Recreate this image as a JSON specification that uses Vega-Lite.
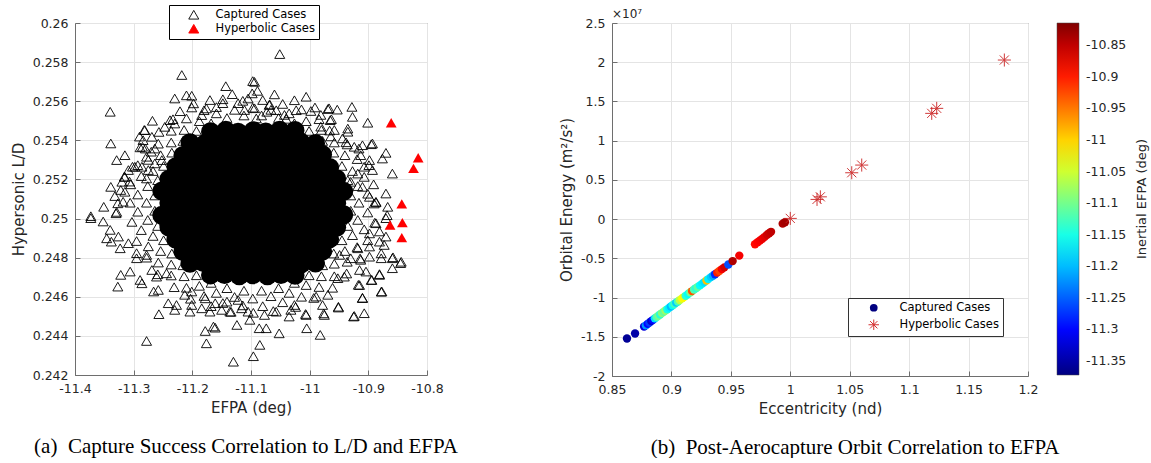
{
"$schema": "https://vega.github.io/schema/vega-lite/v6.json",
"background": "white",
"padding": {"left": 10, "top": 4, "right": 0, "bottom": 0},
"spacing": 185,
"bounds": "flush",
"resolve": {"scale": {"color": "independent", "shape": "independent"}, "legend": {"color": "independent", "shape": "independent"}},
"config": {
 "font": "DejaVu Sans",
 "view": {"stroke": "#6e6e6e", "strokeWidth": 1},
 "axis": {"labelFont": "DejaVu Sans", "labelFontSize": 12.5, "labelColor": "#262626", "titleFont": "DejaVu Sans", "titleFontSize": 15, "titleFontWeight": "normal", "titleColor": "#262626", "grid": true, "gridColor": "#e4e4e4", "domainColor": "#6e6e6e", "tickColor": "#6e6e6e", "tickSize": -5, "labelPadding": 12, "titlePadding": 6, "labelFlush": false, "labelOverlap": false}
},
"datasets": {
 "captured_ld": [
{"efpa":-11.143,"ld":0.25451},{"efpa":-11.122,"ld":0.25441},{"efpa":-11.096,"ld":0.25449},{"efpa":-11.075,"ld":0.25443},{"efpa":-11.051,"ld":0.25452},{"efpa":-11.169,"ld":0.25444},{"efpa":-11.025,"ld":0.2545},
{"efpa":-11.179,"ld":0.25382},{"efpa":-11.158,"ld":0.2539},{"efpa":-11.131,"ld":0.25384},{"efpa":-11.111,"ld":0.25389},{"efpa":-11.084,"ld":0.25381},{"efpa":-11.062,"ld":0.25388},{"efpa":-11.035,"ld":0.25383},{"efpa":-11.015,"ld":0.25391},{"efpa":-11.204,"ld":0.25388},{"efpa":-10.99,"ld":0.25384},
{"efpa":-11.19,"ld":0.25329},{"efpa":-11.17,"ld":0.25321},{"efpa":-11.143,"ld":0.25327},{"efpa":-11.122,"ld":0.25322},{"efpa":-11.098,"ld":0.2533},{"efpa":-11.071,"ld":0.25323},{"efpa":-11.05,"ld":0.25328},{"efpa":-11.023,"ld":0.25321},{"efpa":-11.004,"ld":0.25326},{"efpa":-11.216,"ld":0.25323},{"efpa":-10.978,"ld":0.25327},
{"efpa":-11.202,"ld":0.2526},{"efpa":-11.182,"ld":0.25267},{"efpa":-11.155,"ld":0.25261},{"efpa":-11.134,"ld":0.25266},{"efpa":-11.107,"ld":0.25259},{"efpa":-11.086,"ld":0.25265},{"efpa":-11.059,"ld":0.25262},{"efpa":-11.038,"ld":0.25268},{"efpa":-11.011,"ld":0.2526},{"efpa":-10.991,"ld":0.25266},{"efpa":-11.228,"ld":0.25265},{"efpa":-10.966,"ld":0.25261},
{"efpa":-11.214,"ld":0.25205},{"efpa":-11.193,"ld":0.25198},{"efpa":-11.167,"ld":0.25204},{"efpa":-11.146,"ld":0.25199},{"efpa":-11.119,"ld":0.25206},{"efpa":-11.098,"ld":0.252},{"efpa":-11.071,"ld":0.25205},{"efpa":-11.05,"ld":0.25198},{"efpa":-11.023,"ld":0.25204},{"efpa":-11.003,"ld":0.25199},{"efpa":-10.98,"ld":0.25205},{"efpa":-11.24,"ld":0.25201},{"efpa":-10.954,"ld":0.25204},
{"efpa":-11.226,"ld":0.25137},{"efpa":-11.205,"ld":0.25143},{"efpa":-11.179,"ld":0.25138},{"efpa":-11.158,"ld":0.25144},{"efpa":-11.131,"ld":0.25137},{"efpa":-11.11,"ld":0.25142},{"efpa":-11.083,"ld":0.25139},{"efpa":-11.062,"ld":0.25145},{"efpa":-11.035,"ld":0.25137},{"efpa":-11.014,"ld":0.25143},{"efpa":-10.988,"ld":0.25138},{"efpa":-10.968,"ld":0.25142},{"efpa":-11.252,"ld":0.25141},{"efpa":-10.942,"ld":0.25139},
{"efpa":-11.214,"ld":0.25082},{"efpa":-11.194,"ld":0.25076},{"efpa":-11.167,"ld":0.25081},{"efpa":-11.146,"ld":0.25075},{"efpa":-11.119,"ld":0.25083},{"efpa":-11.099,"ld":0.25077},{"efpa":-11.071,"ld":0.25081},{"efpa":-11.051,"ld":0.25076},{"efpa":-11.023,"ld":0.25083},{"efpa":-11.004,"ld":0.25078},{"efpa":-10.976,"ld":0.2508},{"efpa":-11.24,"ld":0.2508},{"efpa":-10.954,"ld":0.25078},
{"efpa":-11.226,"ld":0.25021},{"efpa":-11.206,"ld":0.25015},{"efpa":-11.179,"ld":0.2502},{"efpa":-11.159,"ld":0.25014},{"efpa":-11.131,"ld":0.25022},{"efpa":-11.111,"ld":0.25016},{"efpa":-11.083,"ld":0.2502},{"efpa":-11.063,"ld":0.25014},{"efpa":-11.035,"ld":0.25021},{"efpa":-11.015,"ld":0.25017},{"efpa":-10.988,"ld":0.25019},{"efpa":-10.968,"ld":0.25015},{"efpa":-11.252,"ld":0.25017},{"efpa":-10.942,"ld":0.25019},
{"efpa":-11.214,"ld":0.24953},{"efpa":-11.194,"ld":0.24959},{"efpa":-11.167,"ld":0.24954},{"efpa":-11.147,"ld":0.2496},{"efpa":-11.119,"ld":0.24953},{"efpa":-11.099,"ld":0.24958},{"efpa":-11.071,"ld":0.24954},{"efpa":-11.051,"ld":0.2496},{"efpa":-11.023,"ld":0.24953},{"efpa":-11.004,"ld":0.24958},{"efpa":-10.98,"ld":0.24955},{"efpa":-11.24,"ld":0.24957},{"efpa":-10.954,"ld":0.24955},
{"efpa":-11.202,"ld":0.24898},{"efpa":-11.183,"ld":0.24892},{"efpa":-11.155,"ld":0.24897},{"efpa":-11.135,"ld":0.24891},{"efpa":-11.107,"ld":0.24898},{"efpa":-11.087,"ld":0.24893},{"efpa":-11.059,"ld":0.24897},{"efpa":-11.039,"ld":0.24891},{"efpa":-11.011,"ld":0.24898},{"efpa":-10.992,"ld":0.24893},{"efpa":-11.228,"ld":0.24894},{"efpa":-10.966,"ld":0.24896},
{"efpa":-11.19,"ld":0.24836},{"efpa":-11.171,"ld":0.2483},{"efpa":-11.143,"ld":0.24835},{"efpa":-11.123,"ld":0.24829},{"efpa":-11.096,"ld":0.24836},{"efpa":-11.075,"ld":0.2483},{"efpa":-11.048,"ld":0.24835},{"efpa":-11.027,"ld":0.24829},{"efpa":-11.002,"ld":0.24834},{"efpa":-11.216,"ld":0.24832},{"efpa":-10.978,"ld":0.24834},
{"efpa":-11.181,"ld":0.24775},{"efpa":-11.156,"ld":0.24769},{"efpa":-11.133,"ld":0.24774},{"efpa":-11.108,"ld":0.24768},{"efpa":-11.085,"ld":0.24775},{"efpa":-11.06,"ld":0.2477},{"efpa":-11.037,"ld":0.24774},{"efpa":-11.014,"ld":0.24769},{"efpa":-11.204,"ld":0.24771},{"efpa":-10.99,"ld":0.24773},
{"efpa":-11.145,"ld":0.24714},{"efpa":-11.12,"ld":0.24708},{"efpa":-11.097,"ld":0.24713},{"efpa":-11.072,"ld":0.24708},{"efpa":-11.049,"ld":0.24714},{"efpa":-11.169,"ld":0.24712},{"efpa":-11.025,"ld":0.2471},
{"efpa":-10.93,"ld":0.25118},{"efpa":-10.935,"ld":0.25196},{"efpa":-10.945,"ld":0.25269},{"efpa":-10.959,"ld":0.25337},{"efpa":-10.978,"ld":0.25397},{"efpa":-11.001,"ld":0.25448},{"efpa":-11.026,"ld":0.25487},{"efpa":-11.053,"ld":0.25514},{"efpa":-11.082,"ld":0.25527},{"efpa":-11.112,"ld":0.25527},{"efpa":-11.141,"ld":0.25514},{"efpa":-11.168,"ld":0.25487},{"efpa":-11.193,"ld":0.25448},{"efpa":-11.216,"ld":0.25397},{"efpa":-11.235,"ld":0.25337},{"efpa":-11.249,"ld":0.25269},{"efpa":-11.259,"ld":0.25196},{"efpa":-11.264,"ld":0.25118},{"efpa":-11.264,"ld":0.2504},{"efpa":-11.259,"ld":0.24962},{"efpa":-11.249,"ld":0.24889},{"efpa":-11.235,"ld":0.24821},{"efpa":-11.216,"ld":0.24761},{"efpa":-11.193,"ld":0.2471},{"efpa":-11.168,"ld":0.24671},{"efpa":-11.141,"ld":0.24644},{"efpa":-11.112,"ld":0.24631},{"efpa":-11.082,"ld":0.24631},{"efpa":-11.053,"ld":0.24644},{"efpa":-11.026,"ld":0.24671},{"efpa":-11.001,"ld":0.2471},{"efpa":-10.978,"ld":0.24761},{"efpa":-10.959,"ld":0.24821},{"efpa":-10.945,"ld":0.24889},{"efpa":-10.935,"ld":0.24962},{"efpa":-10.93,"ld":0.2504},
{"efpa":-10.916,"ld":0.25081},{"efpa":-10.918,"ld":0.25166},{"efpa":-10.927,"ld":0.25243},{"efpa":-10.94,"ld":0.25324},{"efpa":-10.958,"ld":0.25389},{"efpa":-10.98,"ld":0.25453},{"efpa":-11.006,"ld":0.25498},{"efpa":-11.035,"ld":0.25538},{"efpa":-11.066,"ld":0.25556},{"efpa":-11.097,"ld":0.25567},{"efpa":-11.128,"ld":0.25556},{"efpa":-11.159,"ld":0.25538},{"efpa":-11.188,"ld":0.25498},{"efpa":-11.214,"ld":0.25453},{"efpa":-11.236,"ld":0.25389},{"efpa":-11.254,"ld":0.25324},{"efpa":-11.267,"ld":0.25243},{"efpa":-11.276,"ld":0.25166},{"efpa":-11.278,"ld":0.25081},{"efpa":-11.276,"ld":0.24993},{"efpa":-11.267,"ld":0.24911},{"efpa":-11.254,"ld":0.24834},{"efpa":-11.236,"ld":0.24765},{"efpa":-11.214,"ld":0.24705},{"efpa":-11.188,"ld":0.24656},{"efpa":-11.159,"ld":0.2462},{"efpa":-11.128,"ld":0.24599},{"efpa":-11.097,"ld":0.24591},{"efpa":-11.066,"ld":0.24603},{"efpa":-11.035,"ld":0.2462},{"efpa":-11.006,"ld":0.2466},{"efpa":-10.98,"ld":0.24705},{"efpa":-10.958,"ld":0.24769},{"efpa":-10.94,"ld":0.24834},{"efpa":-10.927,"ld":0.24915},{"efpa":-10.918,"ld":0.24993},
{"efpa":-10.901,"ld":0.25127},{"efpa":-10.907,"ld":0.25213},{"efpa":-10.919,"ld":0.25304},{"efpa":-10.936,"ld":0.25379},{"efpa":-10.958,"ld":0.25453},{"efpa":-10.984,"ld":0.25508},{"efpa":-11.014,"ld":0.25558},{"efpa":-11.046,"ld":0.25586},{"efpa":-11.08,"ld":0.25606},{"efpa":-11.114,"ld":0.25602},{"efpa":-11.148,"ld":0.2559},{"efpa":-11.18,"ld":0.25554},{"efpa":-11.21,"ld":0.25512},{"efpa":-11.236,"ld":0.25449},{"efpa":-11.258,"ld":0.25383},{"efpa":-11.275,"ld":0.253},{"efpa":-11.287,"ld":0.25217},{"efpa":-11.293,"ld":0.25123},{"efpa":-11.293,"ld":0.25035},{"efpa":-11.287,"ld":0.24941},{"efpa":-11.275,"ld":0.24858},{"efpa":-11.258,"ld":0.24775},{"efpa":-11.236,"ld":0.24709},{"efpa":-11.21,"ld":0.24646},{"efpa":-11.18,"ld":0.24604},{"efpa":-11.148,"ld":0.24568},{"efpa":-11.114,"ld":0.24556},{"efpa":-11.08,"ld":0.24552},{"efpa":-11.046,"ld":0.24572},{"efpa":-11.014,"ld":0.246},{"efpa":-10.984,"ld":0.2465},{"efpa":-10.958,"ld":0.24705},{"efpa":-10.936,"ld":0.24779},{"efpa":-10.919,"ld":0.24854},{"efpa":-10.907,"ld":0.24945},{"efpa":-10.901,"ld":0.25031},
{"efpa":-10.887,"ld":0.25083},{"efpa":-10.891,"ld":0.25175},{"efpa":-10.899,"ld":0.25273},{"efpa":-10.916,"ld":0.25358},{"efpa":-10.935,"ld":0.25444},{"efpa":-10.963,"ld":0.25508},{"efpa":-10.991,"ld":0.25568},{"efpa":-11.026,"ld":0.25605},{"efpa":-11.06,"ld":0.25635},{"efpa":-11.098,"ld":0.2564},{"efpa":-11.132,"ld":0.25636},{"efpa":-11.17,"ld":0.25606},{"efpa":-11.201,"ld":0.25568},{"efpa":-11.233,"ld":0.25508},{"efpa":-11.257,"ld":0.25443},{"efpa":-11.28,"ld":0.25358},{"efpa":-11.293,"ld":0.25273},{"efpa":-11.305,"ld":0.25175},{"efpa":-11.306,"ld":0.25081},{"efpa":-11.303,"ld":0.24983},{"efpa":-11.295,"ld":0.24885},{"efpa":-11.278,"ld":0.248},{"efpa":-11.259,"ld":0.24715},{"efpa":-11.231,"ld":0.24649},{"efpa":-11.203,"ld":0.2459},{"efpa":-11.168,"ld":0.24552},{"efpa":-11.134,"ld":0.24523},{"efpa":-11.096,"ld":0.24518},{"efpa":-11.062,"ld":0.24527},{"efpa":-11.024,"ld":0.24548},{"efpa":-10.993,"ld":0.24594},{"efpa":-10.961,"ld":0.24646},{"efpa":-10.937,"ld":0.24719},{"efpa":-10.914,"ld":0.24796},{"efpa":-10.901,"ld":0.24889},{"efpa":-10.889,"ld":0.24979},
{"efpa":-11.218,"ld":0.25734},{"efpa":-11.143,"ld":0.25677},{"efpa":-11.097,"ld":0.25703},{"efpa":-11.34,"ld":0.25546},{"efpa":-11.23,"ld":0.25614},{"efpa":-11.21,"ld":0.2563},{"efpa":-11.201,"ld":0.25628},{"efpa":-11.198,"ld":0.25589},{"efpa":-11.221,"ld":0.25549},{"efpa":-11.268,"ld":0.255},{"efpa":-11.339,"ld":0.25384},{"efpa":-11.329,"ld":0.25299},{"efpa":-11.315,"ld":0.25324},{"efpa":-11.339,"ld":0.25162},{"efpa":-11.332,"ld":0.25115},{"efpa":-11.351,"ld":0.2506},{"efpa":-11.373,"ld":0.25012},{"efpa":-11.281,"ld":0.25452},{"efpa":-11.284,"ld":0.25401},{"efpa":-11.269,"ld":0.25418},{"efpa":-11.289,"ld":0.25364},{"efpa":-11.278,"ld":0.25316},{"efpa":-11.264,"ld":0.25358},{"efpa":-11.247,"ld":0.25469},{"efpa":-11.238,"ld":0.25503},{"efpa":-11.23,"ld":0.25486},{"efpa":-11.176,"ld":0.25563},{"efpa":-11.159,"ld":0.2557},{"efpa":-11.148,"ld":0.2561},{"efpa":-11.184,"ld":0.25529},{"efpa":-11.122,"ld":0.2559},{"efpa":-11.105,"ld":0.25614},{"efpa":-11.309,"ld":0.25248},{"efpa":-11.298,"ld":0.25265},{"efpa":-11.315,"ld":0.25213},{"efpa":-11.32,"ld":0.25188},{"efpa":-11.315,"ld":0.25137},{"efpa":-11.318,"ld":0.25086},{"efpa":-11.329,"ld":0.25034},{"efpa":-11.286,"ld":0.25265},{"efpa":-11.275,"ld":0.25248},{"efpa":-11.278,"ld":0.25205},{"efpa":-11.264,"ld":0.25282},{"efpa":-11.252,"ld":0.25299},
{"efpa":-11.094,"ld":0.25699},{"efpa":-11.089,"ld":0.25653},{"efpa":-11.006,"ld":0.25623},{"efpa":-11.068,"ld":0.25583},{"efpa":-11.057,"ld":0.25554},{"efpa":-11.073,"ld":0.25546},{"efpa":-11.023,"ld":0.25554},{"efpa":-10.998,"ld":0.2555},{"efpa":-10.969,"ld":0.2556},{"efpa":-10.953,"ld":0.25557},{"efpa":-10.928,"ld":0.25571},{"efpa":-10.927,"ld":0.2552},{"efpa":-10.981,"ld":0.2553},{"efpa":-10.965,"ld":0.25503},{"efpa":-10.901,"ld":0.2549},{"efpa":-10.935,"ld":0.2546},{"efpa":-11.091,"ld":0.25512},{"efpa":-11.043,"ld":0.2553},{"efpa":-11.04,"ld":0.2551},{"efpa":-10.981,"ld":0.2547},{"efpa":-10.966,"ld":0.2545},{"efpa":-10.964,"ld":0.2542},{"efpa":-10.944,"ld":0.2541},{"efpa":-10.938,"ld":0.2539},{"efpa":-10.924,"ld":0.25367},{"efpa":-10.91,"ld":0.25375},{"efpa":-10.893,"ld":0.25384},{"efpa":-10.87,"ld":0.25336},{"efpa":-10.876,"ld":0.25307},{"efpa":-10.859,"ld":0.2523},{"efpa":-10.913,"ld":0.25324},{"efpa":-10.898,"ld":0.25299},{"efpa":-10.907,"ld":0.25265},{"efpa":-10.893,"ld":0.25248},{"efpa":-10.87,"ld":0.25128},{"efpa":-10.867,"ld":0.2506},{"efpa":-10.887,"ld":0.25086},{"efpa":-10.868,"ld":0.25017},{"efpa":-10.918,"ld":0.2523},{"efpa":-10.93,"ld":0.25188},{"efpa":-10.91,"ld":0.25162},{"efpa":-10.898,"ld":0.25111},{"efpa":-10.89,"ld":0.25077},
{"efpa":-11.373,"ld":0.25002},{"efpa":-11.352,"ld":0.24985},{"efpa":-11.34,"ld":0.24942},{"efpa":-11.346,"ld":0.24899},{"efpa":-11.326,"ld":0.24908},{"efpa":-11.338,"ld":0.24882},{"efpa":-11.323,"ld":0.24848},{"efpa":-11.309,"ld":0.24874},{"efpa":-11.295,"ld":0.24823},{"efpa":-11.295,"ld":0.24797},{"efpa":-11.278,"ld":0.24814},{"efpa":-11.322,"ld":0.24712},{"efpa":-11.306,"ld":0.24729},{"efpa":-11.327,"ld":0.24652},{"efpa":-11.289,"ld":0.24686},{"efpa":-11.286,"ld":0.24669},{"efpa":-11.266,"ld":0.24627},{"efpa":-11.258,"ld":0.24635},{"efpa":-11.257,"ld":0.24511},{"efpa":-11.241,"ld":0.24567},{"efpa":-11.227,"ld":0.24558},{"efpa":-11.23,"ld":0.24533},{"efpa":-11.204,"ld":0.24524},{"efpa":-11.201,"ld":0.24558},{"efpa":-11.278,"ld":0.24374},{"efpa":-11.178,"ld":0.24425},{"efpa":-11.164,"ld":0.24448},{"efpa":-11.161,"ld":0.24442},{"efpa":-11.176,"ld":0.24362},{"efpa":-11.124,"ld":0.24456},{"efpa":-11.13,"ld":0.24268},{"efpa":-11.096,"ld":0.24296},{"efpa":-11.184,"ld":0.24541},{"efpa":-11.17,"ld":0.24524},{"efpa":-11.15,"ld":0.24533},{"efpa":-11.136,"ld":0.24524},{"efpa":-11.116,"ld":0.24541},{"efpa":-11.105,"ld":0.24524},{"efpa":-11.102,"ld":0.24482},{"efpa":-11.161,"ld":0.24567},{"efpa":-11.141,"ld":0.24575},{"efpa":-11.122,"ld":0.24584},{"efpa":-11.213,"ld":0.2461},{"efpa":-11.201,"ld":0.24627},{"efpa":-11.178,"ld":0.24592},{"efpa":-11.269,"ld":0.24737},{"efpa":-11.261,"ld":0.24703},{"efpa":-11.244,"ld":0.2472},
{"efpa":-10.87,"ld":0.25002},{"efpa":-10.87,"ld":0.24908},{"efpa":-10.881,"ld":0.24934},{"efpa":-10.859,"ld":0.24797},{"efpa":-10.845,"ld":0.24772},{"efpa":-10.859,"ld":0.24746},{"efpa":-10.878,"ld":0.24797},{"efpa":-10.881,"ld":0.24712},{"efpa":-10.894,"ld":0.24686},{"efpa":-10.917,"ld":0.24661},{"efpa":-10.877,"ld":0.24627},{"efpa":-10.91,"ld":0.24593},{"efpa":-10.951,"ld":0.24545},{"efpa":-10.907,"ld":0.24516},{"efpa":-10.925,"ld":0.24499},{"efpa":-10.975,"ld":0.24507},{"efpa":-11.006,"ld":0.24507},{"efpa":-11.035,"ld":0.24499},{"efpa":-11.032,"ld":0.24533},{"efpa":-11.005,"ld":0.24439},{"efpa":-10.982,"ld":0.24405},{"efpa":-11.052,"ld":0.24413},{"efpa":-11.074,"ld":0.24439},{"efpa":-11.086,"ld":0.24439},{"efpa":-11.085,"ld":0.24354},{"efpa":-10.898,"ld":0.24805},{"efpa":-10.913,"ld":0.24789},{"efpa":-10.93,"ld":0.24797},{"efpa":-10.949,"ld":0.24814},{"efpa":-10.881,"ld":0.24882},{"efpa":-10.873,"ld":0.24865},{"efpa":-10.898,"ld":0.24857},{"efpa":-10.918,"ld":0.24848},{"efpa":-10.952,"ld":0.24695},{"efpa":-10.941,"ld":0.24703},{"efpa":-10.915,"ld":0.24737},{"efpa":-10.904,"ld":0.24729},{"efpa":-10.989,"ld":0.24601},{"efpa":-10.969,"ld":0.2461},{"efpa":-10.978,"ld":0.24558},{"efpa":-11.026,"ld":0.24558},{"efpa":-11.057,"ld":0.24524},{"efpa":-11.077,"ld":0.24507},
{"efpa":-11.051,"ld":0.25841},{"efpa":-11.069,"ld":0.25581},{"efpa":-11.111,"ld":0.25555},{"efpa":-11.094,"ld":0.25564},{"efpa":-10.967,"ld":0.25564},{"efpa":-10.895,"ld":0.2538},{"efpa":-11.282,"ld":0.25453},{"efpa":-11.29,"ld":0.25419},{"efpa":-11.285,"ld":0.25367},{"efpa":-11.27,"ld":0.25342},{"efpa":-11.302,"ld":0.25265},{"efpa":-11.316,"ld":0.25214},{"efpa":-11.307,"ld":0.25189},{"efpa":-11.322,"ld":0.25146},{"efpa":-11.327,"ld":0.25078},{"efpa":-11.33,"ld":0.25027},
{"efpa":-10.887,"ld":0.24976},{"efpa":-10.898,"ld":0.24924},{"efpa":-10.878,"ld":0.24822},{"efpa":-10.858,"ld":0.24802},{"efpa":-10.844,"ld":0.24779},{"efpa":-10.881,"ld":0.24716},{"efpa":-10.895,"ld":0.24686},{"efpa":-10.915,"ld":0.2466},{"efpa":-10.91,"ld":0.24595},{"efpa":-10.924,"ld":0.24502},{"efpa":-10.878,"ld":0.24626},{"efpa":-10.951,"ld":0.24549},{"efpa":-11.007,"ld":0.24512},{"efpa":-10.976,"ld":0.24515}
 ],
 "hyperbolic_ld": [
{"efpa":-10.861,"ld":0.2549},{"efpa":-10.815,"ld":0.25311},{"efpa":-10.823,"ld":0.25257},{"efpa":-10.843,"ld":0.25075},{"efpa":-10.863,"ld":0.24967},{"efpa":-10.842,"ld":0.24979},{"efpa":-10.843,"ld":0.24902}
 ],
 "captured_orbit": [
{"ecc":0.8626,"energy":-15220000,"efpa":-11.36},{"ecc":0.8694,"energy":-14580000,"efpa":-11.35},{"ecc":0.877,"energy":-13700000,"efpa":-11.32},{"ecc":0.8785,"energy":-13550000,"efpa":-11.22},{"ecc":0.88,"energy":-13350000,"efpa":-11.3},{"ecc":0.8815,"energy":-13200000,"efpa":-11.27},{"ecc":0.883,"energy":-13000000,"efpa":-11.33},{"ecc":0.8845,"energy":-12850000,"efpa":-11.3},{"ecc":0.886,"energy":-12650000,"efpa":-11.18},{"ecc":0.8875,"energy":-12500000,"efpa":-11.12},{"ecc":0.889,"energy":-12320000,"efpa":-11.1},{"ecc":0.8905,"energy":-12150000,"efpa":-11.14},{"ecc":0.892,"energy":-11980000,"efpa":-11.09},{"ecc":0.8935,"energy":-11820000,"efpa":-11.11},{"ecc":0.895,"energy":-11650000,"efpa":-11.08},{"ecc":0.8965,"energy":-11500000,"efpa":-11.15},{"ecc":0.898,"energy":-11320000,"efpa":-11.17},{"ecc":0.8995,"energy":-11150000,"efpa":-11.2},{"ecc":0.901,"energy":-10980000,"efpa":-11.16},{"ecc":0.9025,"energy":-10820000,"efpa":-11.13},{"ecc":0.904,"energy":-10650000,"efpa":-11.19},{"ecc":0.9055,"energy":-10500000,"efpa":-11.12},{"ecc":0.907,"energy":-10320000,"efpa":-11.06},{"ecc":0.909,"energy":-10100000,"efpa":-11.03},{"ecc":0.9105,"energy":-9950000,"efpa":-11.02},{"ecc":0.912,"energy":-9780000,"efpa":-11.14},{"ecc":0.914,"energy":-9550000,"efpa":-11.16},{"ecc":0.916,"energy":-9320000,"efpa":-11.1},{"ecc":0.9173,"energy":-9180000,"efpa":-10.93},{"ecc":0.919,"energy":-8980000,"efpa":-11.12},{"ecc":0.9205,"energy":-8820000,"efpa":-11.14},{"ecc":0.9221,"energy":-8650000,"efpa":-11.11},{"ecc":0.924,"energy":-8450000,"efpa":-11.16},{"ecc":0.926,"energy":-8220000,"efpa":-11.17},{"ecc":0.9277,"energy":-8030000,"efpa":-11.18},{"ecc":0.9295,"energy":-7830000,"efpa":-10.99},{"ecc":0.931,"energy":-7650000,"efpa":-11.17},{"ecc":0.9333,"energy":-7400000,"efpa":-11.19},{"ecc":0.935,"energy":-7220000,"efpa":-11.21},{"ecc":0.9367,"energy":-7030000,"efpa":-11.28},{"ecc":0.9385,"energy":-6820000,"efpa":-10.9},{"ecc":0.9403,"energy":-6620000,"efpa":-10.92},{"ecc":0.9425,"energy":-6380000,"efpa":-10.88},{"ecc":0.9445,"energy":-6150000,"efpa":-10.86},{"ecc":0.9479,"energy":-5780000,"efpa":-11.26},{"ecc":0.9515,"energy":-5350000,"efpa":-10.84},{"ecc":0.9571,"energy":-4650000,"efpa":-10.88},{"ecc":0.9703,"energy":-3200000,"efpa":-10.89},{"ecc":0.9725,"energy":-2950000,"efpa":-10.885},{"ecc":0.9745,"energy":-2720000,"efpa":-10.88},{"ecc":0.9765,"energy":-2500000,"efpa":-10.875},{"ecc":0.9785,"energy":-2250000,"efpa":-10.87},{"ecc":0.9805,"energy":-2000000,"efpa":-10.86},{"ecc":0.9822,"energy":-1800000,"efpa":-10.855},{"ecc":0.9838,"energy":-1620000,"efpa":-10.85},{"ecc":0.9936,"energy":-580000,"efpa":-10.84},{"ecc":0.9955,"energy":-400000,"efpa":-10.835}
 ],
 "hyperbolic_orbit": [
{"ecc":1.0,"energy":90000,"efpa":-10.87},{"ecc":1.0225,"energy":2510000,"efpa":-10.863},{"ecc":1.0253,"energy":2840000,"efpa":-10.861},{"ecc":1.0517,"energy":5910000,"efpa":-10.843},{"ecc":1.0601,"energy":6890000,"efpa":-10.842},{"ecc":1.119,"energy":13480000,"efpa":-10.828},{"ecc":1.1232,"energy":14120000,"efpa":-10.823},{"ecc":1.1801,"energy":20280000,"efpa":-10.815}
 ]
},
"hconcat": [
 {
  "width": 352, "height": 352,
  "title": {"text": "(a)\u00a0\u00a0Capture Success Correlation to L/D and EFPA", "orient": "bottom", "anchor": "middle", "frame": "group", "font": "Liberation Serif", "fontSize": 21, "fontWeight": "normal", "color": "black", "offset": 20, "dx": -5},
  "layer": [
   {"data": {"name": "captured_ld"},
    "transform": [{"filter": "pow((datum.efpa + 11.097) / 0.1623, 2) + pow((datum.ld - 0.25079) / 0.004347, 2) <= 0.95"}],
    "mark": {"type": "point", "shape": "circle", "filled": true, "size": 361, "color": "black", "opacity": 1},
    "encoding": {"x": {"field": "efpa", "type": "quantitative", "scale": {"domain": [-11.4, -10.8], "nice": false, "zero": false}}, "y": {"field": "ld", "type": "quantitative", "scale": {"domain": [0.242, 0.26], "nice": false, "zero": false}}}},
   {"data": {"name": "captured_ld"},
    "mark": {"type": "point", "filled": false, "size": 100, "strokeWidth": 0.9, "opacity": 1, "color": "black"},
    "encoding": {
     "x": {"field": "efpa", "type": "quantitative", "axis": {"title": "EFPA (deg)", "values": [-11.4, -11.3, -11.2, -11.1, -11, -10.9, -10.8], "tickCount": 10, "labelExpr": "'' + datum.value"}},
     "y": {"field": "ld", "type": "quantitative", "axis": {"title": "Hypersonic L/D", "values": [0.242, 0.244, 0.246, 0.248, 0.25, 0.252, 0.254, 0.256, 0.258, 0.26], "tickCount": 12, "labelExpr": "'' + datum.value"}},
     "shape": {"datum": "Captured Cases", "type": "nominal", "scale": {"domain": ["Captured Cases", "Hyperbolic Cases"], "range": ["triangle-up", "triangle-up"]},
      "legend": {"orient": "none", "legendX": 94, "legendY": -18, "title": null, "symbolSize": 100, "labelFont": "DejaVu Sans", "labelFontSize": 11.5, "labelColor": "black", "strokeColor": "black", "fillColor": "white", "padding": 4, "symbolOffset": 15, "labelOffset": 16, "rowPadding": 1,
       "encoding": {"symbols": {"fill": {"value": {"expr": "datum.value === 'Hyperbolic Cases' ? 'red' : 'transparent'"}}, "stroke": {"value": {"expr": "datum.value === 'Hyperbolic Cases' ? 'red' : 'black'"}}, "strokeWidth": {"value": 0.9}, "opacity": {"value": 1}}}}}
    }},
   {"data": {"name": "hyperbolic_ld"},
    "mark": {"type": "point", "filled": true, "size": 115, "opacity": 1, "color": "red"},
    "encoding": {"x": {"field": "efpa", "type": "quantitative"}, "y": {"field": "ld", "type": "quantitative"},
     "shape": {"datum": "Hyperbolic Cases", "type": "nominal",
      "legend": {"orient": "none", "legendX": 94, "legendY": -18, "title": null, "symbolSize": 100, "labelFont": "DejaVu Sans", "labelFontSize": 11.5, "labelColor": "black", "strokeColor": "black", "fillColor": "white", "padding": 4, "symbolOffset": 15, "labelOffset": 16, "rowPadding": 1,
       "encoding": {"symbols": {"fill": {"value": {"expr": "datum.value === 'Hyperbolic Cases' ? 'red' : 'transparent'"}}, "stroke": {"value": {"expr": "datum.value === 'Hyperbolic Cases' ? 'red' : 'black'"}}, "strokeWidth": {"value": 0.9}, "opacity": {"value": 1}}}}}}}
  ]
 },
 {
  "width": 416, "height": 353,
  "title": {"text": "(b)\u00a0\u00a0Post-Aerocapture Orbit Correlation to EFPA", "orient": "bottom", "anchor": "middle", "frame": "group", "font": "Liberation Serif", "fontSize": 21, "fontWeight": "normal", "color": "black", "offset": 20, "dx": 35},
  "layer": [
   {"data": {"name": "captured_orbit"},
    "mark": {"type": "point", "filled": true, "size": 70, "opacity": 1},
    "encoding": {
     "x": {"field": "ecc", "type": "quantitative", "scale": {"domain": [0.85, 1.2], "nice": false, "zero": false}, "axis": {"title": "Eccentricity (nd)", "values": [0.85, 0.9, 0.95, 1, 1.05, 1.1, 1.15, 1.2], "tickCount": 10, "labelExpr": "'' + datum.value"}},
     "y": {"field": "energy", "type": "quantitative", "scale": {"domain": [-20000000, 25000000], "nice": false, "zero": false}, "axis": {"title": "Orbital Energy (m²/s²)", "values": [-20000000, -15000000, -10000000, -5000000, 0, 5000000, 10000000, 15000000, 20000000, 25000000], "tickCount": 12, "labelExpr": "'' + (datum.value / 10000000)"}},
     "color": {"field": "efpa", "type": "quantitative", "scale": {"domain": [-11.372, -10.815], "range": ["#000080", "#0000ff", "#0080ff", "#00ffff", "#80ff80", "#ffff00", "#ff8000", "#ff0000", "#800000"], "interpolate": "rgb"},
      "legend": {"type": "gradient", "orient": "none", "legendX": 445, "legendY": 0, "direction": "vertical", "gradientLength": 352, "gradientThickness": 22, "values": [-11.35, -11.3, -11.25, -11.2, -11.15, -11.1, -11.05, -11, -10.95, -10.9, -10.85], "labelExpr": "'' + datum.value", "labelFont": "DejaVu Sans", "labelFontSize": 12.5, "labelColor": "#262626", "labelOffset": 7, "labelOverlap": false, "title": "Inertial EFPA (deg)", "titleOrient": "right", "titleAnchor": "middle", "titleFont": "DejaVu Sans", "titleFontSize": 13, "titleFontWeight": "normal", "titleColor": "#262626", "titlePadding": 10, "gradientStrokeColor": "#444", "gradientStrokeWidth": 0.5,
       "encoding": {"title": {"angle": {"value": -90}, "align": {"value": "center"}, "baseline": {"value": "top"}}}}},
     "shape": {"datum": "Captured Cases", "type": "nominal", "scale": {"domain": ["Captured Cases", "Hyperbolic Cases"], "range": ["circle", "M-1,0L1,0M0,-1L0,1M-0.7,-0.7L0.7,0.7M-0.7,0.7L0.7,-0.7"]},
      "legend": {"orient": "none", "legendX": 236, "legendY": 275, "title": null, "symbolSize": 60, "labelFont": "DejaVu Sans", "labelFontSize": 11.5, "labelColor": "black", "strokeColor": "#333", "fillColor": "white", "padding": 4, "symbolOffset": 16, "labelOffset": 20, "rowPadding": 3,
       "encoding": {"symbols": {"fill": {"value": {"expr": "datum.value === 'Hyperbolic Cases' ? 'transparent' : '#000080'"}}, "stroke": {"value": {"expr": "datum.value === 'Hyperbolic Cases' ? '#d43030' : 'transparent'"}}, "strokeWidth": {"value": 1}, "size": {"value": {"expr": "datum.value === 'Hyperbolic Cases' ? 110 : 60"}}, "opacity": {"value": 1}}}}}
    }},
   {"data": {"name": "hyperbolic_orbit"},
    "mark": {"type": "point", "filled": false, "size": 170, "strokeWidth": 1, "opacity": 0.9, "color": "#cc2424"},
    "encoding": {"x": {"field": "ecc", "type": "quantitative"}, "y": {"field": "energy", "type": "quantitative"}, "shape": {"datum": "Hyperbolic Cases", "type": "nominal"}}},
   {"data": {"values": [{}]},
    "mark": {"type": "text", "align": "left", "baseline": "alphabetic", "dy": -5, "fontSize": 12, "font": "DejaVu Sans", "color": "#262626"},
    "encoding": {"x": {"datum": 0.85, "type": "quantitative"}, "y": {"datum": 25000000, "type": "quantitative"}, "text": {"value": "×10⁷"}}}
  ]
 }
]
}
